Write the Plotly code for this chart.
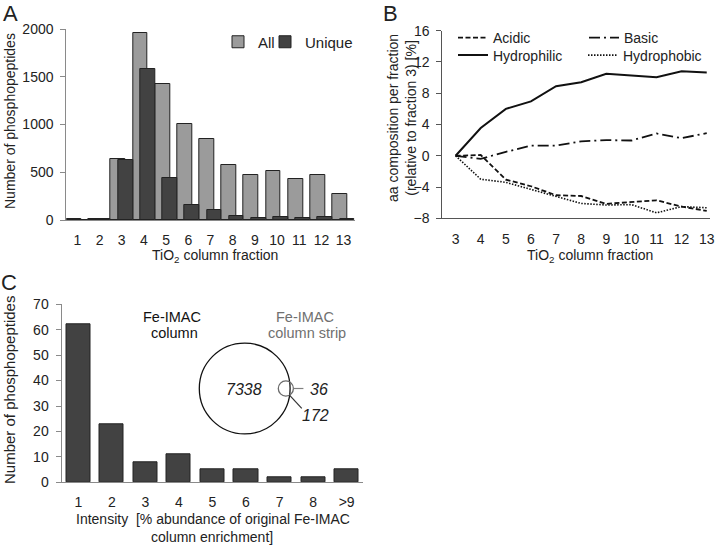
import math
import plotly.graph_objects as go

W, H = 720, 547

# ---------------- data ----------------
# Panel A
fractions_a = list(range(1, 14))
tick_labels_a = [str(i) for i in fractions_a]
all_counts = [8, 14, 636, 1955, 1425, 1008, 853, 580, 468, 517, 432, 468, 270]
unique_counts = [4, 10, 627, 1585, 445, 162, 102, 43, 22, 28, 24, 36, 8]

# Panel B
fractions_b = list(range(3, 14))
acidic = [0, 0.1, -3.05, -3.9, -5.05, -5.15, -6.15, -5.9, -5.7, -6.5, -7.05]
basic = [0, -0.4, 0.5, 1.3, 1.3, 1.85, 2.0, 1.95, 2.85, 2.25, 2.9]
hydrophilic = [0, 3.55, 6.0, 6.95, 8.9, 9.4, 10.5, 10.3, 10.05, 10.8, 10.65]
hydrophobic = [0, -3.0, -3.4, -4.3, -5.2, -6.1, -6.3, -6.25, -7.3, -6.5, -6.65]

# Panel C
intensity_labels = ["1", "2", "3", "4", "5", "6", "7", "8", ">9"]
intensity_counts = [62, 23, 8, 11, 5, 5, 2, 2, 5]
venn_only_column = 7338
venn_shared = 172
venn_only_strip = 36

# ---------------- helpers ----------------
FONT = "Liberation Sans, Arial, sans-serif"
TXT = "#222222"


def px(x):
    return x / W


def py(y):
    return 1 - y / H


fig = go.Figure()

# Panel A bars
fig.add_trace(go.Bar(
    x=fractions_a, y=all_counts, name="All", width=2 / 3, offset=-0.5,
    marker=dict(color="#9b9b9b", line=dict(color="#222222", width=1)),
    xaxis="x", yaxis="y", legend="legend"))
fig.add_trace(go.Bar(
    x=fractions_a, y=unique_counts, name="Unique", width=2 / 3, offset=-1 / 6,
    marker=dict(color="#424242", line=dict(color="#222222", width=1)),
    xaxis="x", yaxis="y", legend="legend2"))

# Panel B lines
line_styles = [
    ("Acidic", acidic, "5px,2.5px", 1.8, "legend3"),
    ("Basic", basic, "11px,4px,2px,4px", 1.8, "legend4"),
    ("Hydrophilic", hydrophilic, "solid", 2.0, "legend5"),
    ("Hydrophobic", hydrophobic, "1.5px,1.5px", 1.6, "legend6"),
]
for name, vals, dash, lw, lg in line_styles:
    fig.add_trace(go.Scatter(
        x=fractions_b, y=vals, mode="lines", name=name,
        line=dict(color="#111111", width=lw, dash=dash),
        xaxis="x2", yaxis="y2", legend=lg))

# Panel C bars
fig.add_trace(go.Bar(
    x=intensity_labels, y=intensity_counts, width=0.72, showlegend=False,
    marker=dict(color="#424242", line=dict(color="#222222", width=1)),
    xaxis="x3", yaxis="y3"))

tickfont = dict(family=FONT, size=14, color=TXT)
base_axis = dict(showgrid=False, zeroline=False, showline=True, linewidth=1,
                 tickfont=tickfont, automargin=False, fixedrange=True)

layout_axes = dict(
    xaxis=dict(base_axis, domain=[px(66.3), px(354.7)], range=[0.5, 13.5],
               tickvals=fractions_a, ticktext=tick_labels_a, ticks="",
               linecolor="#8a8a8a", anchor="y", ticklabelstandoff=7),
    yaxis=dict(base_axis, domain=[py(220), py(29)], range=[0, 2000], dtick=500,
               ticks="outside", ticklen=5, tickcolor="#8a8a8a", linecolor="#8a8a8a",
               anchor="x", ticklabelstandoff=4),
    xaxis2=dict(base_axis, domain=[px(442.3), px(710)], range=[2.47, 13.13],
                tickvals=fractions_b, ticks="", linecolor="#555555", anchor="y2",
                ticklabelstandoff=8),
    yaxis2=dict(base_axis, domain=[py(218.3), py(30.7)], range=[-8, 16], dtick=4,
                ticks="outside", ticklen=5, tickcolor="#555555", linecolor="#555555",
                anchor="x2", ticklabelstandoff=4),
    xaxis3=dict(base_axis, domain=[px(61.5), px(363.4)], range=[-0.5, 8.5],
                type="category", ticks="", linecolor="#8a8a8a", anchor="y3",
                ticklabelstandoff=7),
    yaxis3=dict(base_axis, domain=[py(482.3), py(304.3)], range=[0, 70], dtick=10,
                ticks="outside", ticklen=5, tickcolor="#8a8a8a", linecolor="#8a8a8a",
                anchor="x3", ticklabelstandoff=4),
)

# Legends
def leg(x, y, size):
    return dict(x=px(x), y=py(y), xanchor="left", yanchor="middle",
                bgcolor="rgba(0,0,0,0)", borderwidth=0, orientation="h",
                font=dict(family=FONT, size=size, color=TXT), itemclick=False,
                itemdoubleclick=False)

legends = dict(
    legend=leg(218, 42, 15),
    legend2=leg(265, 42, 15),
    legend3=leg(453, 38, 14),
    legend4=leg(584, 38, 14),
    legend5=leg(453, 55.5, 14),
    legend6=leg(583, 55.5, 14),
)

# Annotations (titles, panel letters, Venn text)
ann = []


def add_text(text, x, y, size=14, color=TXT, angle=0, xanchor="center"):
    ann.append(dict(text=text, x=px(x), y=py(y), xref="paper", yref="paper",
                    showarrow=False, textangle=angle, xanchor=xanchor, yanchor="middle",
                    font=dict(family=FONT, size=size, color=color)))


add_text("A", 10, 13, 22)
add_text("B", 391, 13, 22)
add_text("C", 9, 282, 22)
add_text("Number of phosphopeptides", 10, 121, 14, angle=-90)
add_text("TiO<sub>2</sub> column fraction", 215, 256, 14)
add_text("aa composition per fraction<br>(relative to fraction 3) [%]", 402, 118, 14, angle=-90)
add_text("TiO<sub>2</sub> column fraction", 590, 256, 14)
add_text("Number of phosphopeptides", 9, 390, 15, angle=-90)
add_text("Intensity  [% abundance of original Fe-IMAC", 213, 519, 14)
add_text("column enrichment]", 212, 537, 14)
add_text("Fe-IMAC", 172, 316.5, 14.5, color="#111111")
add_text("column", 174, 333, 14.5, color="#111111")
add_text("Fe-IMAC", 305, 316.5, 14.5, color="#707070")
add_text("column strip", 306.5, 333, 14.5, color="#707070")

# Venn diagram geometry from counts (area proportional)
r_big = 45.4
r_small = r_big * math.sqrt((venn_shared + venn_only_strip) / (venn_only_column + venn_shared))


def lens_area(d, r1, r2):
    a1 = r1 ** 2 * math.acos((d * d + r1 * r1 - r2 * r2) / (2 * d * r1))
    a2 = r2 ** 2 * math.acos((d * d + r2 * r2 - r1 * r1) / (2 * d * r2))
    a3 = 0.5 * math.sqrt(max(0.0, (-d + r1 + r2) * (d + r1 - r2) * (d - r1 + r2) * (d + r1 + r2)))
    return a1 + a2 - a3


target = venn_shared / (venn_shared + venn_only_strip) * math.pi * r_small ** 2
lo, hi = r_big - r_small + 1e-6, r_big + r_small - 1e-6
for _ in range(60):
    mid = (lo + hi) / 2
    if lens_area(mid, r_big, r_small) > target:
        lo = mid
    else:
        hi = mid
d_centers = (lo + hi) / 2

cxb, cy = 244.7, 388.5
cxs = cxb + d_centers

shapes = [
    dict(type="circle", xref="paper", yref="paper",
         x0=px(cxb - r_big), x1=px(cxb + r_big), y0=py(cy + r_big), y1=py(cy - r_big),
         line=dict(color="#111111", width=1.3)),
    dict(type="circle", xref="paper", yref="paper",
         x0=px(cxs - r_small), x1=px(cxs + r_small), y0=py(cy + r_small), y1=py(cy - r_small),
         line=dict(color="#6a6a6a", width=1.3)),
    dict(type="line", xref="paper", yref="paper",
         x0=px(cxs + r_small), x1=px(cxs + r_small + 10), y0=py(cy), y1=py(cy),
         line=dict(color="#808080", width=1.2)),
    dict(type="line", xref="paper", yref="paper",
         x0=px(cxs + 0.45 * r_small), x1=px(cxs + 0.45 * r_small + 12.5),
         y0=py(cy + 0.85 * r_small), y1=py(cy + 0.85 * r_small + 13.5),
         line=dict(color="#333333", width=1.2)),
]

add_text("<i>%d</i>" % venn_only_column, 244, 389, 16)
add_text("<i>%d</i>" % venn_only_strip, 319, 389, 16)
add_text("<i>%d</i>" % venn_shared, 315, 415, 16)

fig.update_layout(
    width=W, height=H, margin=dict(l=0, r=0, t=0, b=0),
    paper_bgcolor="white", plot_bgcolor="rgba(0,0,0,0)",
    barmode="overlay", bargap=0,
    font=dict(family=FONT, size=14, color=TXT),
    annotations=ann, shapes=shapes,
    **layout_axes, **legends,
)

fig.write_html(
    "out.html",
    config={"displayModeBar": False},
    post_script="document.body.style.margin='0';document.body.style.overflow='hidden';",
)
